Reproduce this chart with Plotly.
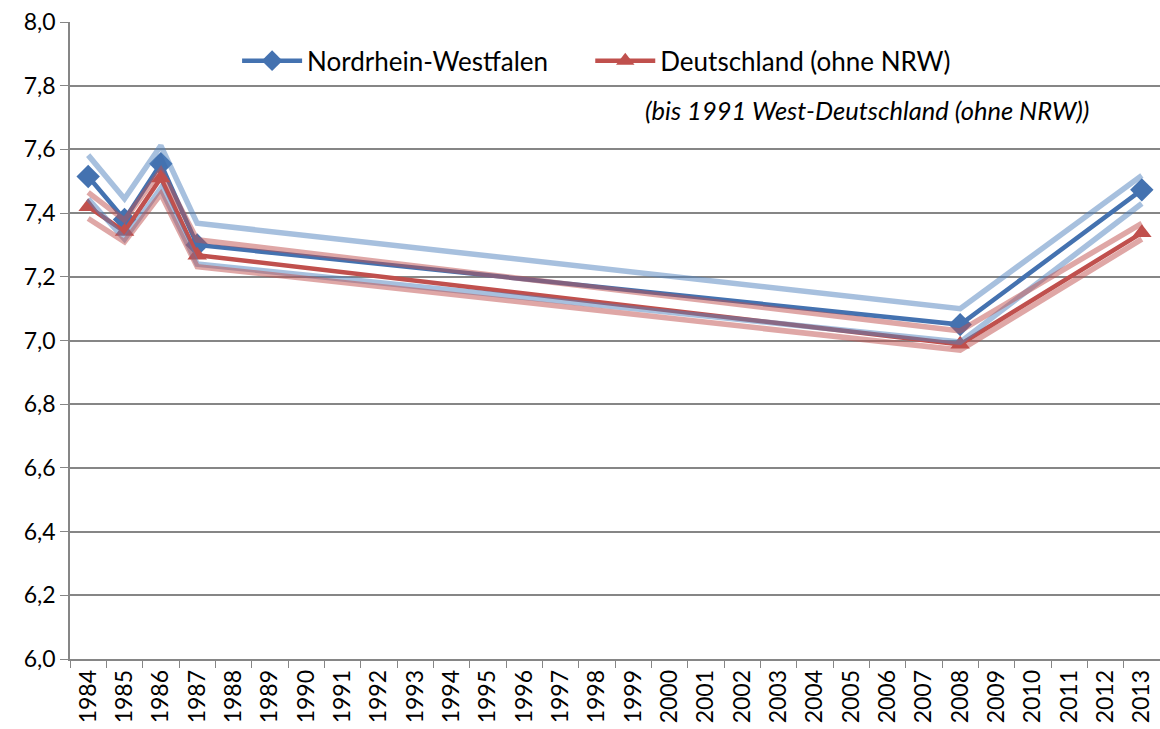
import plotly.graph_objects as go

all_years = [str(y) for y in range(1984, 2014)]
years = ["1984", "1985", "1986", "1987", "2008", "2013"]

nrw = [7.515, 7.38, 7.555, 7.30, 7.05, 7.473]
nrw_upper = [7.582, 7.445, 7.612, 7.368, 7.10, 7.518]
nrw_lower = [7.445, 7.318, 7.478, 7.24, 6.995, 7.43]

de = [7.42, 7.342, 7.51, 7.268, 6.988, 7.338]
de_upper = [7.465, 7.378, 7.535, 7.316, 7.03, 7.368]
de_lower = [7.383, 7.31, 7.46, 7.232, 6.97, 7.318]

y_ticks = [6.0, 6.2, 6.4, 6.6, 6.8, 7.0, 7.2, 7.4, 7.6, 7.8, 8.0]
y_labels = [f"{v:.1f}".replace(".", ",") for v in y_ticks]

blue = "#4472B0"
red = "#C0504D"
light_blue = "rgba(79,129,189,0.5)"
light_red = "rgba(192,80,77,0.5)"

fig = go.Figure()
fig.add_trace(go.Scatter(x=years, y=nrw, name="Nordrhein-Westfalen", mode="lines+markers",
                         line=dict(color=blue, width=4.5), legend="legend",
                         marker=dict(symbol="diamond", size=18, color=blue)))
fig.add_trace(go.Scatter(x=years, y=de, name="Deutschland (ohne NRW)", mode="lines+markers",
                         line=dict(color=red, width=4.5), legend="legend2",
                         marker=dict(symbol="triangle-up", size=17, color=red)))
for vals, col in [(nrw_upper, light_blue), (nrw_lower, light_blue),
                  (de_upper, light_red), (de_lower, light_red)]:
    fig.add_trace(go.Scatter(x=years, y=vals, mode="lines", showlegend=False,
                             line=dict(color=col, width=5.5), hoverinfo="skip"))

fig.add_annotation(text="<i>(bis 1991 West-Deutschland (ohne NRW))</i>",
                   xref="paper", yref="paper", x=0.937, y=0.862, xanchor="right", yanchor="middle",
                   showarrow=False, font=dict(size=25.5, color="#000000"))

leg_common = dict(orientation="h", y=0.976, xanchor="left", yanchor="top",
                  font=dict(size=26), bgcolor="rgba(255,255,255,0)", itemwidth=60)
fig.update_layout(
    width=1160, height=729,
    margin=dict(l=70, r=0, t=22, b=70),
    paper_bgcolor="white", plot_bgcolor="white",
    font=dict(family="Lato, Open Sans, sans-serif", size=23, color="#000000"),
    legend=dict(x=0.1533, **leg_common),
    legend2=dict(x=0.4773, **leg_common),
    showlegend=True,
)
fig.update_xaxes(type="category", categoryorder="array", categoryarray=all_years,
                 tickvals=all_years, ticktext=all_years, tickangle=-90,
                 showgrid=False, showline=True, linecolor="#868686", linewidth=1.5,
                 ticks="outside", tickson="boundaries", ticklen=7, tickcolor="#868686",
                 tickfont=dict(size=23), range=[-0.5, 29.5])
fig.update_yaxes(range=[6.0, 8.0], tickvals=y_ticks, ticktext=y_labels,
                 showgrid=True, gridcolor="#868686", gridwidth=1.5,
                 showline=True, linecolor="#868686", linewidth=1.5,
                 ticks="outside", ticklen=8, tickcolor="#868686", zeroline=False,
                 tickfont=dict(size=23))

fig.write_html("out.html", config={"displayModeBar": False})
# remove the browser's default 8px body margin so the figure sits at the page origin
with open("out.html", encoding="utf-8") as f:
    html = f.read()
html = html.replace("<body>", '<body style="margin:0;overflow:hidden">', 1)
with open("out.html", "w", encoding="utf-8") as f:
    f.write(html)
